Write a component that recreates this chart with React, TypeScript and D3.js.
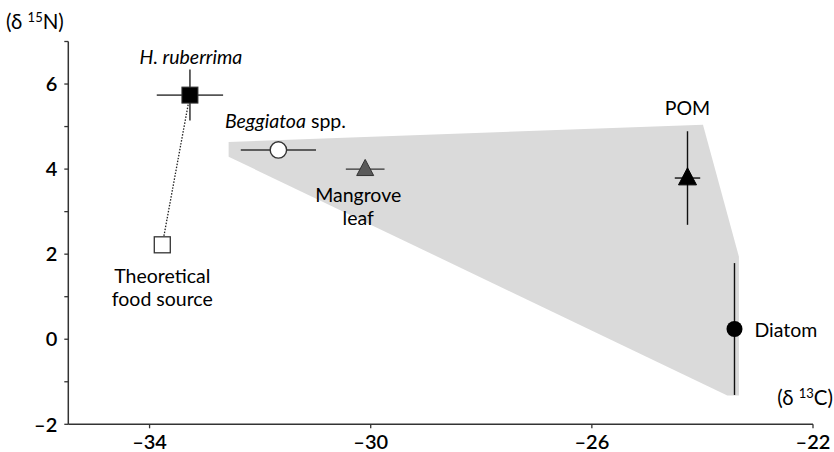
import React from "react";
import * as d3 from "d3";

// Data
const sources = ["H. ruberrima", "Theoretical food source", "Beggiatoa spp.", "Mangrove leaf", "POM", "Diatom"];
const d13C = [-33.27, -33.77, -31.67, -30.1, -24.27, -23.42];
const d15N = [5.74, 2.22, 4.45, 4.0, 3.79, 0.24];
const errC = [0.6, 0, 0.68, 0.35, 0.23, 0];
const errN = [0.6, 0, 0, 0, 1.1, 1.55];

// Mixing polygon (shaded area)
const hullC = [-32.57, -23.99, -23.34, -23.34, -23.55, -32.57];
const hullN = [4.64, 5.04, 1.94, -1.32, -1.32, 4.29];

const xMajor = [-34, -30, -26, -22];
const yMajor = [-2, 0, 2, 4, 6];
const yMinor = [-1, 1, 3, 5, 7];

const W = 834;
const H = 452;
const FONT = "Lato, 'Open Sans', sans-serif";
const LFS = 19.5;

const fmt = (v: number) => (v < 0 ? "\u2013" + Math.abs(v) : String(v));

export default function App() {
  const x = d3.scaleLinear().domain([-35.47, -22]).range([68.3, 813]);
  const y = d3.scaleLinear().domain([-2, 7]).range([424.3, 41.5]);

  const hullPath = d3.line<number>()
    .x((_, i) => x(hullC[i]))
    .y((_, i) => y(hullN[i]))
    .curve(d3.curveLinearClosed)(hullC);

  const px = d13C.map((v) => x(v));
  const py = d15N.map((v) => y(v));

  const tri = (cx: number, cy: number, s: number) => {
    const h = s * 0.95;
    return `M${cx},${cy - h * 0.6}L${cx + s / 2},${cy + h * 0.4}L${cx - s / 2},${cy + h * 0.4}Z`;
  };

  const x0 = x.range()[0];
  const y0 = y.range()[0];

  return (
    <svg width={W} height={H} style={{ position: "absolute", left: 0, top: 0, background: "#fff" }} fontFamily={FONT}>
      {/* shaded polygon */}
      <path d={hullPath || ""} fill="#dadada" stroke="none" />

      {/* axes */}
      <line x1={x0} x2={x0} y1={y(7)} y2={y0} stroke="#333" strokeWidth={1.5} />
      <line x1={x0} x2={x(-22)} y1={y0} y2={y0} stroke="#333" strokeWidth={1.5} />
      {yMajor.concat(yMinor).map((v) => (
        <line key={"yt" + v} x1={x0 - 4} x2={x0} y1={y(v)} y2={y(v)} stroke="#333" strokeWidth={1.3} />
      ))}
      {xMajor.map((v) => (
        <line key={"xt" + v} x1={x(v)} x2={x(v)} y1={y0} y2={y0 + 4} stroke="#333" strokeWidth={1.3} />
      ))}
      {yMajor.map((v) => (
        <text key={"yl" + v} x={x0 - 11} y={y(v)} dy="0.36em" textAnchor="end" fontSize={20} fontWeight={600} fill="#000">
          {fmt(v)}
        </text>
      ))}
      {xMajor.map((v) => (
        <text key={"xl" + v} x={x(v)} y={449} textAnchor="middle" fontSize={20} fontWeight={600} fill="#000">
          {fmt(v)}
        </text>
      ))}

      {/* axis titles */}
      <text x={6} y={29} fontSize={20.5} fill="#000">
        (δ <tspan fontSize={13} dy={-7}>15</tspan><tspan dy={7}>N)</tspan>
      </text>
      <text x={833} y={405} textAnchor="end" fontSize={20.5} fill="#000">
        (δ <tspan fontSize={13} dy={-7}>13</tspan><tspan dy={7}>C)</tspan>
      </text>

      {/* dotted link between H. ruberrima and theoretical food source */}
      <line x1={px[1]} y1={py[1]} x2={px[0]} y2={py[0]} stroke="#222" strokeWidth={1.3} strokeDasharray="1.5,1.5" />

      {/* error bars */}
      {sources.map((s, i) => {
        const col = i === 0 ? "#555" : i === 2 || i === 3 ? "#333" : "#111";
        const sw = i === 0 ? 1.8 : 1.4;
        return (
          <g key={"err" + i} stroke={col} strokeWidth={sw}>
            {errC[i] > 0 && <line x1={x(d13C[i] - errC[i])} x2={x(d13C[i] + errC[i])} y1={py[i]} y2={py[i]} />}
            {errN[i] > 0 && <line x1={px[i]} x2={px[i]} y1={y(d15N[i] - errN[i])} y2={y(d15N[i] + errN[i])} />}
          </g>
        );
      })}

      {/* markers */}
      <rect x={px[0] - 8} y={py[0] - 8} width={16} height={16} fill="#000" stroke="#333" strokeWidth={1} />
      <rect x={px[1] - 8} y={py[1] - 8} width={16} height={16} fill="#fff" stroke="#333" strokeWidth={1.3} />
      <circle cx={px[2]} cy={py[2]} r={8.2} fill="#fff" stroke="#333" strokeWidth={1.4} />
      <path d={tri(px[3], py[3], 17)} fill="#5a5a5a" stroke="#333" strokeWidth={1} />
      <path d={tri(px[4], py[4], 18)} fill="#000" stroke="#000" strokeWidth={1} />
      <circle cx={px[5]} cy={py[5]} r={8} fill="#000" />

      {/* labels */}
      <text x={px[0] + 1} y={py[0] - 31} textAnchor="middle" fontSize={LFS} fontStyle="italic" fill="#000">H. ruberrima</text>
      <text x={px[2] + 7} y={py[2] - 22} textAnchor="middle" fontSize={LFS} fill="#000">
        <tspan fontStyle="italic">Beggiatoa</tspan> spp.
      </text>
      <text x={px[3] - 7} y={py[3] + 33} textAnchor="middle" fontSize={LFS} fill="#000">Mangrove</text>
      <text x={px[3] - 7} y={py[3] + 56} textAnchor="middle" fontSize={LFS} fill="#000">leaf</text>
      <text x={px[1]} y={py[1] + 38} textAnchor="middle" fontSize={LFS} fill="#000">Theoretical</text>
      <text x={px[1]} y={py[1] + 61} textAnchor="middle" fontSize={LFS} fill="#000">food source</text>
      <text x={px[4]} y={py[4] - 63} textAnchor="middle" fontSize={LFS} fill="#000">POM</text>
      <text x={px[5] + 20} y={py[5] + 8} fontSize={LFS} fill="#000">Diatom</text>
    </svg>
  );
}
